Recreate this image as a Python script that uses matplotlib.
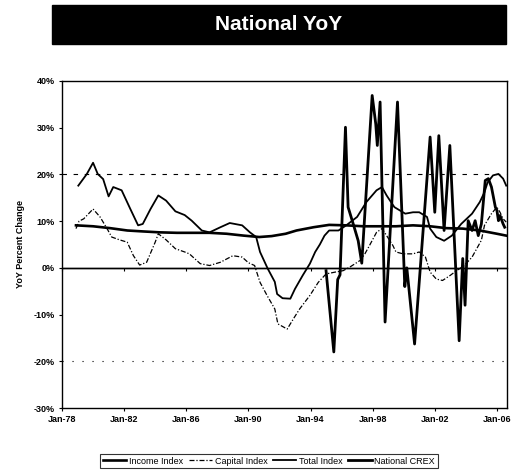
import matplotlib
matplotlib.use("Agg")
import matplotlib.pyplot as plt
from matplotlib.patches import Rectangle

plt.rcParams['font.family'] = ['Liberation Sans Narrow', 'Liberation Sans', 'DejaVu Sans']

# values (decimal years, percent)
income_years = [1978.9, 1980.0, 1981.1, 1982.2, 1983.2, 1984.3, 1985.4, 1986.45, 1987.5, 1988.6,
                1989.7, 1990.7, 1991.5, 1992.4, 1993.1, 1994.2, 1995.2, 1996.3, 1997.4, 1998.5,
                1999.5, 2000.6, 2001.7, 2002.75, 2003.8, 2004.9, 2006.0, 2006.6]
income_vals = [9.1, 8.9, 8.5, 8.0, 7.8, 7.6, 7.5, 7.5, 7.5, 7.3,
               6.9, 6.6, 6.8, 7.3, 8.0, 8.7, 9.2, 9.1, 8.9, 8.9,
               8.9, 9.1, 8.9, 8.5, 8.4, 8.0, 7.3, 6.9]

capital_years = [1978.9, 1979.1, 1979.4, 1980.0, 1980.45, 1980.9, 1981.2, 1981.7, 1982.2, 1982.6,
                 1983.0, 1983.45, 1984.0, 1984.2, 1984.7, 1985.3, 1985.9, 1986.2, 1986.9, 1987.5,
                 1988.2, 1989.0, 1989.6, 1990.0, 1990.4, 1990.75, 1991.2, 1991.7, 1991.9, 1992.5,
                 1992.9, 1993.3, 1993.96, 1994.5, 1995.0, 1995.6, 1996.1, 1996.5, 1997.2, 1997.5,
                 1997.8, 1998.25, 1998.6, 1998.9, 1999.3, 1999.5, 1999.96, 2000.6, 2001.0, 2001.4,
                 2001.7, 2002.1, 2002.5, 2003.0, 2003.4, 2003.9, 2004.4, 2004.7, 2005.0, 2005.2,
                 2005.65, 2006.0, 2006.2, 2006.4, 2006.6]
capital_vals = [8.4, 10.0, 10.5, 12.6, 10.9, 8.4, 6.6, 6.0, 5.5, 2.6,
                0.6, 1.2, 5.5, 7.3, 6.0, 4.1, 3.4, 3.0, 0.9, 0.5,
                1.2, 2.6, 2.3, 1.1, 0.5, -3.1, -5.9, -8.8, -12.0, -13.1,
                -10.9, -8.8, -5.9, -3.1, -1.3, -0.9, -0.6, 0.1, 1.6, 3.0,
                4.8, 7.6, 8.4, 6.9, 4.8, 3.4, 3.0, 3.0, 3.4, 2.3,
                -0.9, -2.4, -2.7, -1.6, -0.6, 0.5, 2.3, 4.1, 5.9, 9.1,
                11.6, 13.0, 11.9, 10.5, 9.8]

total_years = [1979.05, 1979.6, 1980.0, 1980.3, 1980.65, 1981.0, 1981.3, 1981.84, 1982.4, 1982.9,
               1983.2, 1983.7, 1984.2, 1984.7, 1985.3, 1985.9, 1986.35, 1987.0, 1987.5, 1988.2,
               1988.8, 1989.6, 1990.1, 1990.5, 1990.75, 1991.25, 1991.7, 1991.85, 1992.2, 1992.7,
               1993.0, 1993.5, 1993.96, 1994.3, 1994.6, 1994.9, 1995.2, 1995.8, 1996.3, 1997.0,
               1997.6, 1998.25, 1998.6, 1998.9, 1999.4, 2000.1, 2000.6, 2001.0, 2001.5, 2001.7,
               2002.1, 2002.6, 2003.1, 2003.7, 2004.4, 2004.9, 2005.2, 2005.4, 2005.75, 2006.1,
               2006.4, 2006.6]
total_vals = [17.6, 20.1, 22.5, 20.1, 19.0, 15.3, 17.3, 16.6, 12.6, 9.1,
              9.4, 12.6, 15.5, 14.4, 12.1, 11.3, 10.1, 8.0, 7.6, 8.7,
              9.6, 9.1, 7.6, 6.6, 3.4, -0.2, -3.0, -5.6, -6.5, -6.6,
              -4.5, -1.6, 0.9, 3.4, 5.0, 6.9, 8.0, 8.0, 9.1, 10.9,
              14.1, 16.6, 17.3, 15.5, 13.0, 11.6, 11.9, 11.9, 10.9, 8.4,
              6.6, 5.8, 6.9, 9.4, 11.6, 14.1, 16.2, 18.3, 19.8, 20.1,
              19.1, 17.6]

crex_years = [1995.0, 1995.5, 1995.75, 1995.9, 1996.25, 1996.42, 1996.75, 1997.07, 1997.3, 1997.97,
              1998.2, 1998.3, 1998.48, 1998.8, 1999.6, 2000.07, 2000.2, 2000.7, 2001.7, 2002.0,
              2002.26, 2002.6, 2002.97, 2003.57, 2003.8, 2003.95, 2004.15, 2004.4, 2004.6, 2004.8,
              2005.0, 2005.25, 2005.45, 2005.65, 2005.9, 2006.0, 2006.1, 2006.2, 2006.4, 2006.5]
crex_vals = [-0.6, -18.0, -2.5, -1.5, 30.1, 13.0, 9.4, 5.8, 1.0, 36.9,
             30.8, 26.2, 35.5, -11.6, 35.5, -4.0, 0.0, -16.3, 28.0, 11.9,
             28.3, 8.0, 26.2, -15.6, 2.0, -8.0, 10.1, 8.0, 10.1, 6.9,
             9.4, 18.7, 19.1, 17.3, 13.0, 12.3, 10.1, 11.2, 9.4, 8.7]

tick_years = [1978, 1982, 1986, 1990, 1994, 1998, 2002, 2006]
tick_labels = ['Jan-78', 'Jan-82', 'Jan-86', 'Jan-90', 'Jan-94', 'Jan-98', 'Jan-02', 'Jan-06']
y_ticks = [-30, -20, -10, 0, 10, 20, 30, 40]

fig = plt.figure(figsize=(5.22, 4.72), dpi=100)
fig.patch.set_facecolor('white')

# black title banner
fig.patches.append(Rectangle((52/522, 1-44/472), 454/522, 39/472, transform=fig.transFigure,
                             facecolor='black', edgecolor='black'))
fig.text(279/522, 1-24/472, 'National YoY', color='white', fontsize=15, fontweight='bold',
         family=['Liberation Sans', 'DejaVu Sans'], ha='center', va='center')

ax = fig.add_axes([62/522, 1-408/472, 445/522, 327/472])

ax.axhline(20, color='black', lw=0.8, ls=(0, (4, 6)))
ax.axhline(-20, color='black', lw=0.8, ls=(0, (1, 8)))
ax.axhline(0, color='black', lw=1.0)

ax.plot(capital_years, capital_vals, color='black', lw=0.9, ls=(0, (4, 1.5, 1, 1.5)), label='Capital Index')
ax.plot(income_years, income_vals, color='black', lw=1.9, label='Income Index')
ax.plot(total_years, total_vals, color='black', lw=1.3, label='Total Index')
ax.plot(crex_years, crex_vals, color='black', lw=2.0, label='National CREX')

ax.set_xlim(1978, 2006.65)
ax.set_ylim(-30, 40)
ax.set_xticks(tick_years)
ax.set_xticklabels(tick_labels)
ax.set_yticks(y_ticks)
ax.set_yticklabels([f'{v}%' for v in y_ticks])
ax.tick_params(axis='both', labelsize=6.5, length=2, width=0.8, pad=3)
for lab in ax.get_xticklabels() + ax.get_yticklabels():
    lab.set_fontweight('bold')
for sp in ax.spines.values():
    sp.set_linewidth(1.0)

# category axis crossing at 0% with its small tick marks
sec = ax.secondary_xaxis(3/7)
sec.set_xticks(tick_years)
sec.set_xticklabels([])
sec.tick_params(length=2.5, width=0.8, direction='out')
sec.spines['bottom'].set_linewidth(1.0)

ax.set_ylabel('YoY Percent Change', fontsize=6.5, fontweight='bold', labelpad=6)

handles, labels = ax.get_legend_handles_labels()
order = [1, 0, 2, 3]
leg = fig.legend([handles[i] for i in order], [labels[i] for i in order],
                 loc='center', bbox_to_anchor=(269/522, 1-461/472), ncol=4, fontsize=6.5,
                 frameon=True, fancybox=False, edgecolor='black', handlelength=2.6,
                 handletextpad=0.3, columnspacing=0.6, borderpad=0.3, borderaxespad=0)
leg.get_frame().set_linewidth(0.8)

fig.savefig('out.png', dpi=100)
